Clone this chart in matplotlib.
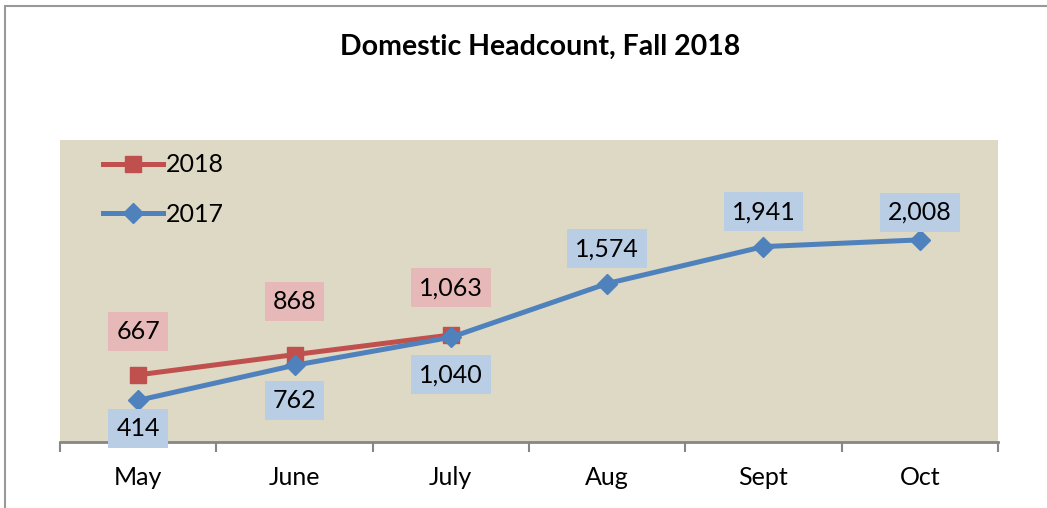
import matplotlib.pyplot as plt
from matplotlib.patches import Rectangle

months = ['May', 'June', 'July', 'Aug', 'Sept', 'Oct']
hc_2018 = [667, 868, 1063]
hc_2017 = [414, 762, 1040, 1574, 1941, 2008]

# label offsets in points (above / below the marker)
off_2018 = [31, 38, 34]
off_2017 = [-20, -25, -27, 25, 25, 20]

red = '#C0504D'
blue = '#4F81BD'

plt.rcParams['font.family'] = ['Lato', 'DejaVu Sans']

fig = plt.figure(figsize=(10.47, 5.08), dpi=100)
fig.patches.append(Rectangle((5 / 1047, -0.1), 1.2, 1 - 6 / 508 + 0.1, transform=fig.transFigure,
                             fill=False, edgecolor='#999999', linewidth=1.5))
ax = fig.add_axes([60 / 1047, 1 - 442 / 508, 938 / 1047, 302 / 508])
ax.set_facecolor('#DDD9C4')

x = [i + 0.5 for i in range(len(months))]
l18, = ax.plot(x[:len(hc_2018)], hc_2018, color=red, lw=3.6, marker='s', ms=12, zorder=3)
l17, = ax.plot(x, hc_2017, color=blue, lw=3.6, marker='D', ms=10, zorder=4)

for xi, v, o in zip(x, hc_2018, off_2018):
    ax.annotate(f'{v:,}', (xi, v), xytext=(0, o), textcoords='offset points',
                ha='center', va='center', fontsize=18, zorder=5,
                bbox=dict(boxstyle='square,pad=0.32', fc='#E6B9B8', ec='none'))
for xi, v, o in zip(x, hc_2017, off_2017):
    ax.annotate(f'{v:,}', (xi, v), xytext=(0, o), textcoords='offset points',
                ha='center', va='center', fontsize=18, zorder=5,
                bbox=dict(boxstyle='square,pad=0.32', fc='#B9CDE5', ec='none'))

ax.set_xlim(0, 6)
ax.set_ylim(0, 3000)
ax.set_yticks([])
ax.set_xticks(range(7))
ax.set_xticklabels([])
ax.set_xticks(x, minor=True)
ax.set_xticklabels(months, minor=True, fontsize=18)
ax.tick_params(axis='x', which='major', direction='out', length=7, width=1.5, color='#868686')
ax.tick_params(axis='x', which='minor', length=0, pad=17)
for s in ['top', 'left', 'right']:
    ax.spines[s].set_visible(False)
ax.spines['bottom'].set_color('#868686')
ax.spines['bottom'].set_linewidth(2)

ax.legend([l18, l17], ['2018', '2017'], loc='upper left', bbox_to_anchor=(0.022, 1.03),
          frameon=False, fontsize=18, handlelength=2.4, handletextpad=0.1, labelspacing=1.05)

fig.text(540 / 1047, 1 - 47 / 508, 'Domestic Headcount, Fall 2018', ha='center', va='center',
         fontsize=20.5, fontweight='bold')

fig.savefig('out.png', dpi=100)
